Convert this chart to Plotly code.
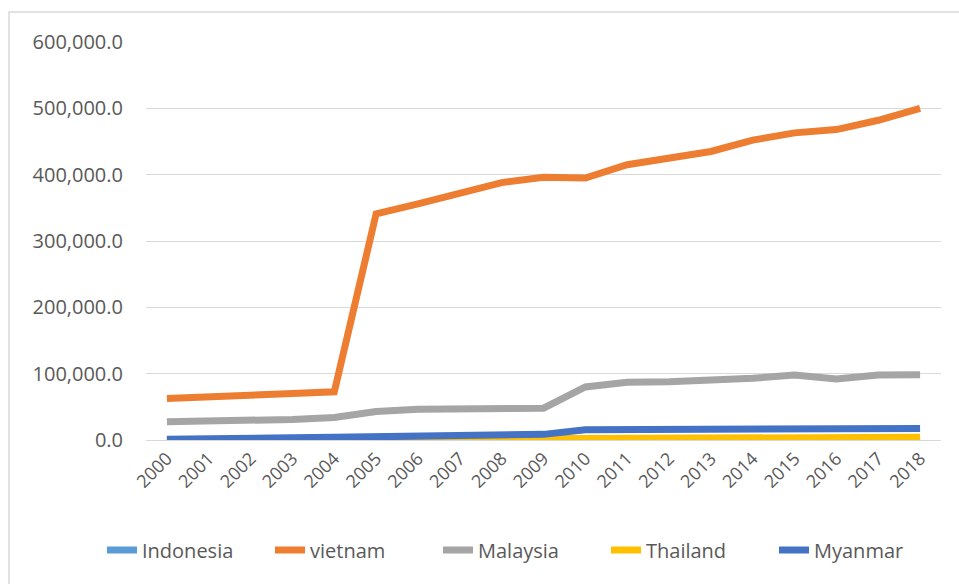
import plotly.graph_objects as go

years = [str(y) for y in range(2000, 2019)]

indonesia = [100, 100, 150, 150, 200, 200, 250, 300, 300, 300, 400, 400, 400, 400, 450, 450, 500, 500, 500]
vietnam = [62700, 64500, 67500, 70000, 72600, 341000, 356000, 371000, 388000, 396000,
           395000, 415000, 426000, 435000, 452000, 463000, 468000, 482000, 500000]
malaysia = [27500, 28000, 29000, 31000, 34000, 43000, 46500, 47000, 48000, 48000,
            80000, 87000, 88000, 90000, 93000, 98000, 92000, 98000, 98500]
thailand = [200, 300, 400, 500, 600, 800, 1500, 2500, 2800, 3000,
            3500, 3500, 3500, 3600, 3700, 3800, 3900, 4000, 4000]
myanmar = [1000, 2500, 3000, 3500, 4000, 4500, 6000, 8000, 8500, 8500,
           15500, 16000, 16000, 16000, 16500, 17000, 17500, 17500, 17500]

series = [
    ("Indonesia", indonesia, "#5B9BD5"),
    ("vietnam", vietnam, "#ED7D31"),
    ("Malaysia", malaysia, "#A5A5A5"),
    ("Thailand", thailand, "#FFC000"),
    ("Myanmar", myanmar, "#4472C4"),
]

fig = go.Figure()
for name, vals, col in series:
    fig.add_trace(go.Scatter(x=years, y=vals, name=name, mode="lines",
                             line=dict(color=col, width=7)))

W, H = 959, 584
L, R, T, B = 146, 18, 42, 144
pw = W - L - R
ph = H - T - B

def px_x(p):
    return (p - L) / pw

def px_y(p):
    return (H - B - p) / ph

fig.update_layout(
    width=W, height=H,
    margin=dict(l=L, r=R, t=T, b=B),
    paper_bgcolor="white", plot_bgcolor="white",
    font=dict(family="Open Sans, Noto Sans, sans-serif", color="#595959"),
    showlegend=True,
    legend=dict(orientation="h", x=px_x(102), xanchor="left", y=px_y(550), yanchor="middle",
                font=dict(size=20, color="#595959"), itemwidth=30,
                entrywidth=123, entrywidthmode="pixels",
                traceorder="normal", bgcolor="rgba(0,0,0,0)"),
    xaxis=dict(type="category", range=[-0.5, 18.5], tickangle=-45,
               tickfont=dict(size=18, color="#595959"),
               showgrid=False, showline=True, linecolor="#d9d9d9", linewidth=1,
               ticks="", zeroline=False),
    yaxis=dict(range=[0, 600000], dtick=100000, tickformat=",.1f",
               tickfont=dict(size=20, color="#595959"),
               showgrid=True, gridcolor="#d9d9d9", gridwidth=1,
               zeroline=False, showline=False, ticks="", ticklabelstandoff=22),
    shapes=[dict(type="rect", xref="paper", yref="paper",
                 x0=px_x(9), x1=px_x(990), y0=px_y(12), y1=px_y(620),
                 line=dict(color="#d9d9d9", width=1.5), fillcolor="rgba(0,0,0,0)",
                 layer="below")],
)

fig.write_html("out.html")
